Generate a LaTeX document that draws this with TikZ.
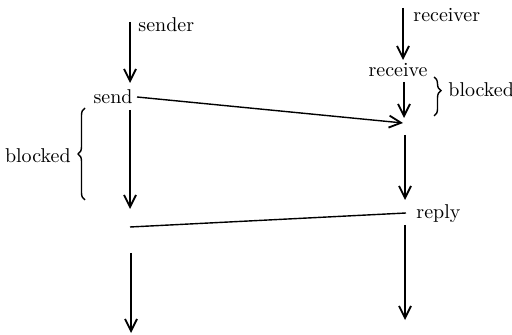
\documentclass[tikz,border=0pt]{standalone}
\usetikzlibrary{arrows.meta,decorations.pathreplacing}

\tikzset{
  flow/.style={line width=0.8pt,-{Straight Barb[length=6pt,width=6pt,line width=0.9pt]}},
  msg/.style={line width=0.7pt},
  lbl/.style={inner sep=0pt,font=\normalsize},
  bracemark/.style={line width=0.7pt,decorate,decoration={brace,amplitude=3.5pt,#1}},
  bracemark/.default={aspect=0.5}
}

\begin{document}
\begin{tikzpicture}[x=0.5pt,y=-0.5pt]
  \useasboundingbox (0,0) rectangle (512,335);

  % sender column
  \coordinate (s0) at (130,22);
  \coordinate (s1) at (130,83);
  \coordinate (s2) at (130,110);
  \coordinate (s3) at (130,209);
  \coordinate (s4) at (131,253);
  \coordinate (s5) at (131,333);
  \coordinate (sr) at (130,227);

  % receiver column
  \coordinate (r0) at (403,8);
  \coordinate (r1) at (403,60);
  \coordinate (r2) at (404,82);
  \coordinate (r3) at (404,118);
  \coordinate (r4) at (405,135);
  \coordinate (r5) at (405,200);
  \coordinate (r6) at (405,225);
  \coordinate (r7) at (405,320);
  \coordinate (rin) at (403,123);
  \coordinate (rout) at (406,213);

  % labels
  \node[lbl,anchor=west] (sender) at (138,25) {sender};
  \node[lbl,anchor=east] (send) at (133,97) {send};
  \node[lbl,anchor=west] (receiver) at (413,15) {receiver};
  \node[lbl] (receive) at (398,70) {receive};
  \node[lbl,anchor=west] (reply) at (416,214) {reply};
  \node[lbl,anchor=east] (blockedL) at (71,156) {blocked};
  \node[lbl,anchor=west] (blockedR) at (448,90) {blocked};

  % control flow of the sender
  \draw[flow] (s0) -- (s1);
  \draw[flow] (s2) -- (s3);
  \draw[flow] (s4) -- (s5);

  % control flow of the receiver
  \draw[flow] (r0) -- (r1);
  \draw[flow] (r2) -- (r3);
  \draw[flow] (r4) -- (r5);
  \draw[flow] (r6) -- (r7);

  % messages
  \draw[flow,line width=0.7pt] ([xshift=2pt]send.east) -- (rin);
  \draw[msg] (rout) -- (sr);

  % blocked intervals
  \draw[bracemark] (85,200) -- (85,108);
  \draw[bracemark={aspect=0.35}] (434,77) -- (434,116);
\end{tikzpicture}
\end{document}
